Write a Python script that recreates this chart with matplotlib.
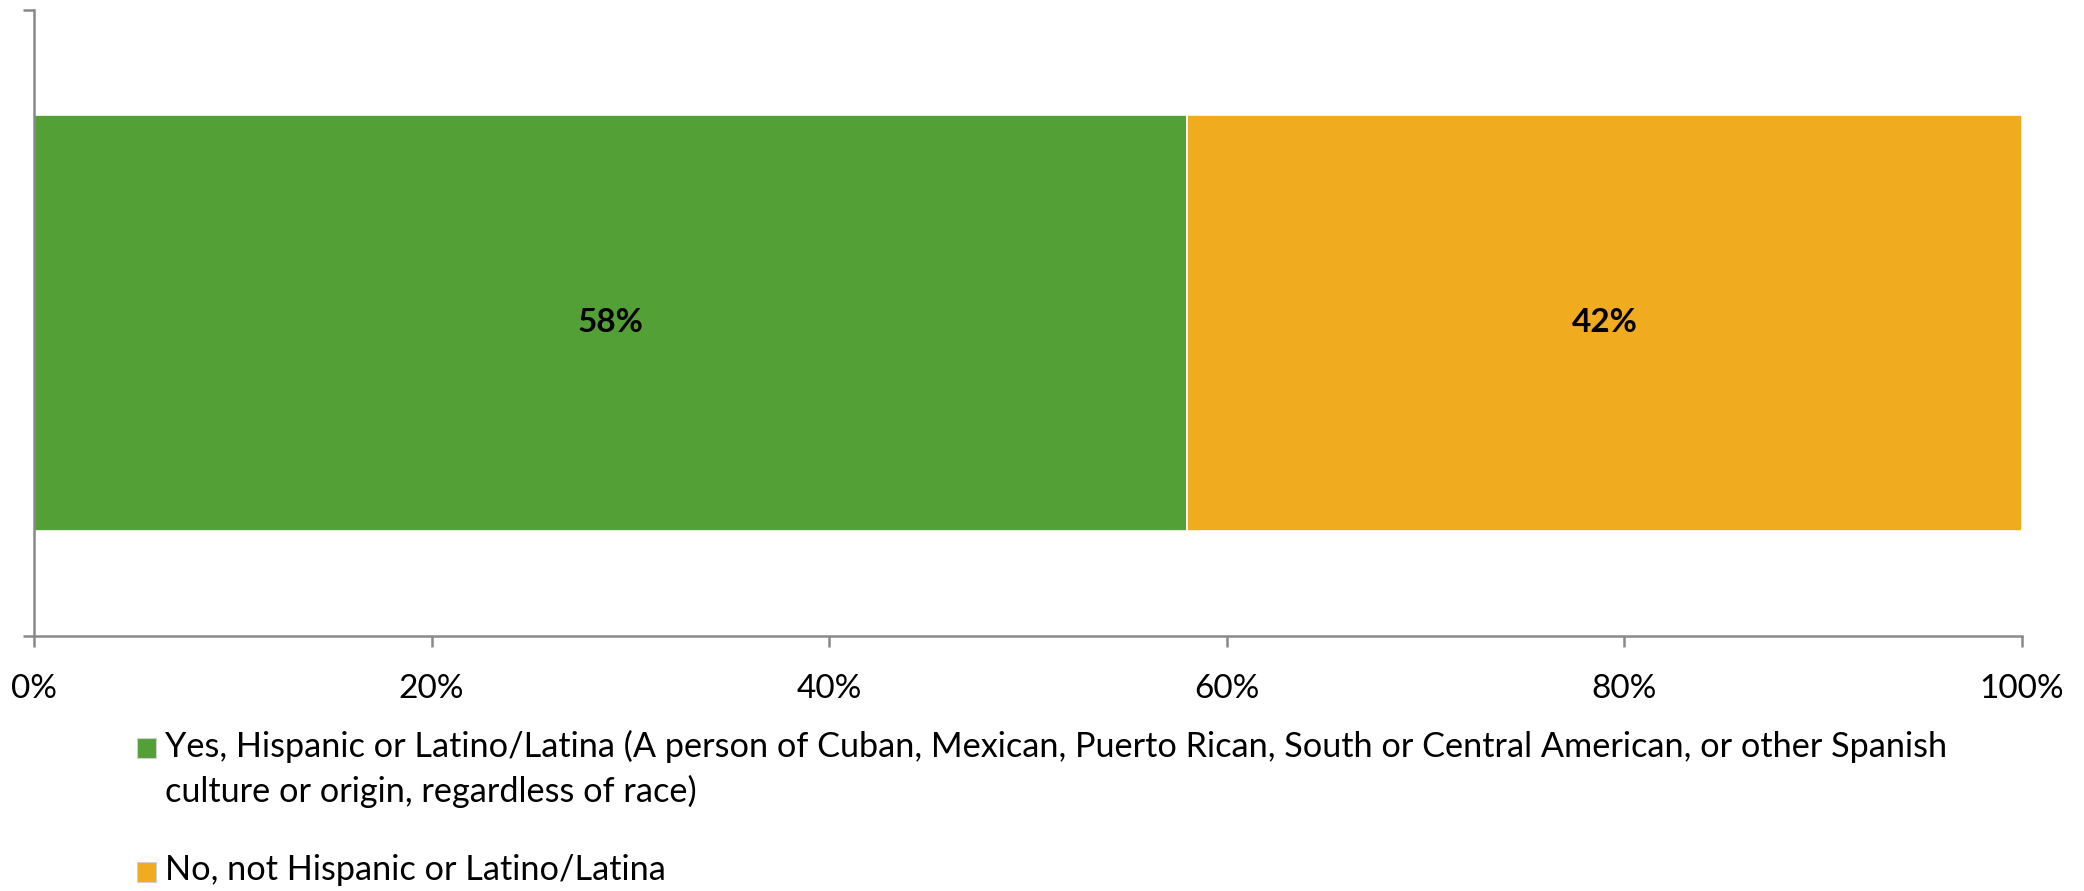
import matplotlib
matplotlib.use("Agg")
import matplotlib.pyplot as plt
from matplotlib.patches import Rectangle
from matplotlib.ticker import PercentFormatter

plt.rcParams['font.family'] = ['Lato', 'DejaVu Sans']

categories = ["Yes, Hispanic or Latino/Latina (A person of Cuban, Mexican, Puerto Rican, South or Central American, or other Spanish\nculture or origin, regardless of race)",
              "No, not Hispanic or Latino/Latina"]
values = [58, 42]
colors = ["#53A037", "#F0AB1E"]
xticks = [0, 20, 40, 60, 80, 100]

W, H = 2084, 891
fig = plt.figure(figsize=(W / 100, H / 100), dpi=100)
ax = fig.add_axes([34 / W, 1 - 636 / H, (2022 - 34) / W, (636 - 10) / H])

left = 0
for v, c in zip(values, colors):
    bars = ax.barh([0], [v], left=left, height=0.666, color=c, edgecolor="white", linewidth=1.2)
    ax.bar_label(bars, labels=[f"{v}%"], label_type="center", fontsize=24, fontweight="bold", color="black")
    left += v

ax.set_xlim(0, 100)
ax.set_ylim(-0.5, 0.5)
ax.set_xticks(xticks)
ax.xaxis.set_major_formatter(PercentFormatter(decimals=0))
ax.set_yticks([-0.5, 0.5])
ax.set_yticklabels([])
for s in ["top", "right"]:
    ax.spines[s].set_visible(False)
for s in ["left", "bottom"]:
    ax.spines[s].set_color("#898989")
    ax.spines[s].set_linewidth(1.8)
ax.tick_params(axis="both", direction="out", length=8, width=1.8, color="#898989")
ax.tick_params(axis="x", labelsize=24, pad=19, labelcolor="black")

# Legend (manual layout)
entries_y = [748, 872]
for lab, c, yy in zip(categories, colors, entries_y):
    fig.patches.append(Rectangle((137 / W, 1 - (yy + 10) / H), 19 / W, 20 / H,
                                 transform=fig.transFigure, facecolor=c,
                                 edgecolor="#d0d0d0", linewidth=0.8))
    fig.text(165 / W, 1 - (yy - 18) / H, lab, fontsize=24.7, va="top", ha="left",
             linespacing=1.45)

fig.savefig("out.png", dpi=100)
